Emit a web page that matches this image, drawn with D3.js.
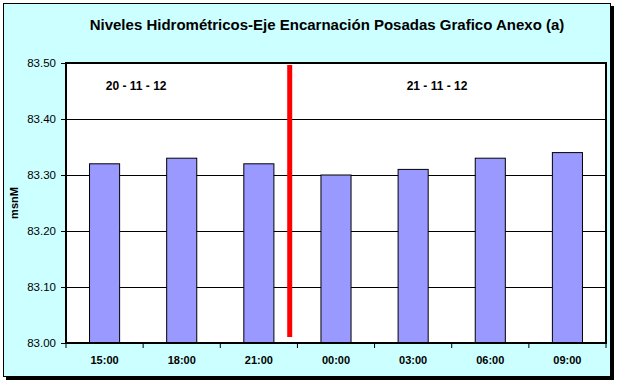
<!DOCTYPE html>
<html>
<head>
<meta charset="utf-8">
<script src="https://cdn.jsdelivr.net/npm/d3@7"></script>
<style>
  body { margin: 0; background: #fff; }
  svg { display: block; font-family: Arial, "Liberation Sans", sans-serif; }
</style>
</head>
<body>
<svg id="chart" width="619" height="383"></svg>
<script>
// chart values
const horas = ["15:00", "18:00", "21:00", "00:00", "03:00", "06:00", "09:00"];
const niveles = [83.32, 83.33, 83.32, 83.30, 83.31, 83.33, 83.34];
const yTicks = [83.00, 83.10, 83.20, 83.30, 83.40, 83.50];
const fechas = [{ txt: "20 - 11 - 12", pos: 0.91 }, { txt: "21 - 11 - 12", pos: 4.81 }];
const corte = 2.9; // red divider, in category steps from the left edge

const svg = d3.select("#chart");
const margin = { top: 63, right: 13, bottom: 40, left: 66 };
const W = 619, H = 383;
const iw = W - margin.left - margin.right;
const ih = H - margin.top - margin.bottom;

// frame with shadow
svg.append("rect").attr("x", 6).attr("y", 6).attr("width", 608).attr("height", 374).attr("fill", "#000");
svg.append("rect").attr("x", 3.5).attr("y", 3.5).attr("width", 607).attr("height", 373)
   .attr("fill", "#ccffff").attr("stroke", "#000").attr("stroke-width", 1);

svg.append("text")
   .attr("x", 327).attr("y", 30)
   .attr("text-anchor", "middle")
   .style("font-size", "15px").style("font-weight", "bold")
   .text("Niveles Hidrométricos-Eje Encarnación Posadas Grafico Anexo (a)");

const g = svg.append("g").attr("transform", `translate(${margin.left},${margin.top})`);

const x = d3.scaleBand().domain(horas).range([0, iw]).padding(0);
const xs = d3.scaleLinear().domain([0, horas.length]).range([0, iw]);
const y = d3.scaleLinear().domain([83.0, 83.5]).range([ih, 0]);

g.append("rect").attr("width", iw).attr("height", ih).attr("fill", "#fff");

// grid
g.selectAll("line.grid")
  .data(yTicks.slice(1, -1))
  .enter().append("line")
  .attr("class", "grid")
  .attr("x1", 0).attr("x2", iw)
  .attr("y1", d => Math.round(y(d)) + 0.5).attr("y2", d => Math.round(y(d)) + 0.5)
  .attr("stroke", "#000").attr("stroke-width", 1);

const bw = x.bandwidth() * 0.39;
g.selectAll("rect.bar")
  .data(niveles)
  .enter().append("rect")
  .attr("class", "bar")
  .attr("x", (d, i) => x(horas[i]) + (x.bandwidth() - bw) / 2)
  .attr("y", d => y(d))
  .attr("width", bw)
  .attr("height", d => ih - y(d))
  .attr("fill", "#9999ff").attr("stroke", "#000").attr("stroke-width", 1);

// red divider
g.append("line")
  .attr("x1", xs(corte)).attr("x2", xs(corte))
  .attr("y1", 2).attr("y2", ih - 6)
  .attr("stroke", "#ff0000").attr("stroke-width", 5);

// plot border
g.append("rect").attr("width", iw).attr("height", ih)
  .attr("fill", "none").attr("stroke", "#000").attr("stroke-width", 2);

// y axis
const yAxis = g.append("g")
  .call(d3.axisLeft(y).tickValues(yTicks).tickFormat(d3.format(".2f")).tickSize(5).tickPadding(5));
yAxis.select(".domain").remove();
yAxis.selectAll("line").attr("stroke", "#000");
yAxis.selectAll("text").style("font-size", "11.5px").style("font-family", "Arial, 'Liberation Sans', sans-serif").attr("fill", "#000");

// x axis: ticks at category boundaries
g.selectAll("line.xt")
  .data(d3.range(horas.length + 1))
  .enter().append("line")
  .attr("class", "xt")
  .attr("x1", d => xs(d)).attr("x2", d => xs(d))
  .attr("y1", ih).attr("y2", ih + 5)
  .attr("stroke", "#000");

g.selectAll("text.xl")
  .data(horas)
  .enter().append("text")
  .attr("class", "xl")
  .attr("x", d => x(d) + x.bandwidth() / 2)
  .attr("y", ih + 21)
  .attr("text-anchor", "middle")
  .style("font-size", "11px").style("font-weight", "bold")
  .text(d => d);

// date labels
g.selectAll("text.fecha")
  .data(fechas)
  .enter().append("text")
  .attr("class", "fecha")
  .attr("x", d => xs(d.pos))
  .attr("y", 27)
  .attr("text-anchor", "middle")
  .style("font-size", "12px").style("font-weight", "bold")
  .text(d => d.txt);

svg.append("text")
  .attr("transform", `translate(18,${margin.top + ih / 2}) rotate(-90)`)
  .attr("text-anchor", "middle")
  .style("font-size", "11px").style("font-weight", "bold")
  .text("msnM");
</script>
</body>
</html>
